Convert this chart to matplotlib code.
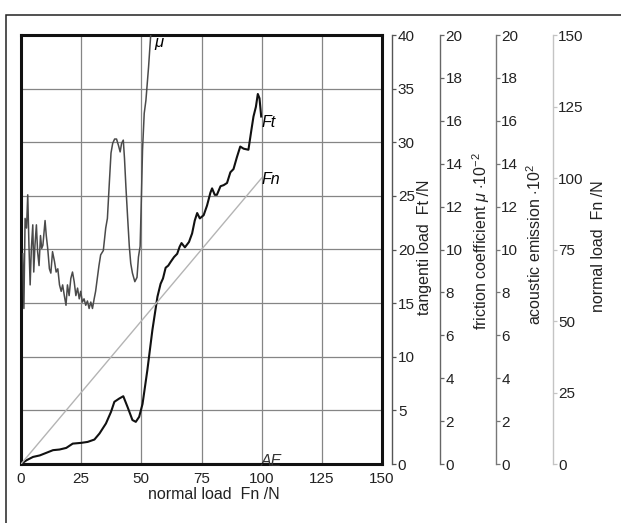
import matplotlib
matplotlib.use("Agg")
import matplotlib.pyplot as plt
from matplotlib.patches import Rectangle

plt.rcParams['font.family'] = ['Liberation Sans', 'DejaVu Sans']
plt.rcParams['mathtext.fontset'] = 'custom'
plt.rcParams['mathtext.rm'] = 'Liberation Sans'
plt.rcParams['mathtext.it'] = 'Liberation Sans:italic'

# tangential load Ft (N) over normal load Fn (N)
ft_x = [0, 2.3, 5.0, 7.8, 10.5, 13.3, 16.0, 18.8, 21.5, 25.0, 27.7, 30.5, 32.6,
        35.3, 37.4, 38.8, 40.8, 42.5, 44.3, 46.3, 47.7, 49.1, 50.5, 52.5, 54.6,
        56.7, 58.0, 59.0, 60.1, 61.2, 62.2, 63.6, 64.9, 65.9, 66.7, 68.1, 69.8,
        71.1, 72.2, 73.2, 74.3, 75.9, 77.3, 78.7, 79.4, 80.5, 81.4, 82.9, 84.2,
        85.6, 87.0, 88.3, 89.7, 91.1, 92.5, 94.5, 95.7, 96.6, 97.6, 98.4, 99.1, 99.8]
ft_y = [0, 0.35, 0.66, 0.8, 1.04, 1.29, 1.35, 1.5, 1.9, 1.97, 2.06, 2.28, 2.84,
        3.78, 4.86, 5.8, 6.1, 6.32, 5.3, 4.1, 3.93, 4.4, 5.6, 8.75, 12.5,
        15.6, 16.8, 17.3, 18.3, 18.5, 18.85, 19.3, 19.6, 20.25, 20.6, 20.2, 20.7,
        21.5, 22.7, 23.4, 22.9, 23.2, 24.1, 25.3, 25.7, 25.1, 25.1, 25.9, 26.0,
        26.2, 27.2, 27.5, 28.6, 29.6, 29.4, 29.3, 31.1, 32.4, 33.3, 34.5, 34.1, 32.4]

# friction coefficient mu (x 10^-2)
mu_x = [0.7, 1.2, 1.7, 2.3, 2.8, 3.3, 3.8, 4.3, 4.9, 5.3, 5.8, 6.4, 6.9, 7.5,
        8.1, 8.6, 9.1, 10.0, 10.5, 11.1, 11.8, 12.4, 13.1, 13.9, 14.6, 15.3,
        16.0, 16.7, 17.3, 18.0, 18.7, 19.3, 20.0, 20.7, 21.4, 22.1, 22.8, 23.5,
        24.2, 24.8, 25.5, 26.2, 26.9, 27.6, 28.3, 29.0, 29.7, 30.4, 31.0, 31.7,
        32.4, 33.1, 34.2, 35.2, 35.9, 36.7, 37.4, 38.1, 38.9, 39.7, 40.5, 41.2,
        41.8, 42.5, 43.0, 43.6, 44.3, 45.0, 45.6, 46.3, 47.3, 48.2, 48.8, 49.5,
        50.0, 50.5, 51.2, 51.9, 53.0, 53.9, 54.5]
mu_y = [9.8, 7.25, 11.45, 11.0, 12.55, 10.2, 8.35, 10.05, 11.15, 8.95, 10.2,
        11.15, 9.9, 9.25, 10.65, 10.05, 10.2, 11.35, 10.65, 10.05, 9.1, 8.9, 9.9,
        9.45, 8.95, 9.1, 8.35, 8.05, 8.35, 7.85, 7.4, 8.35, 7.85, 8.65, 8.95, 8.5,
        7.85, 8.2, 7.7, 8.05, 7.55, 7.7, 7.4, 7.6, 7.25, 7.55, 7.25, 7.7, 8.05,
        8.65, 9.25, 9.75, 9.95, 11.0, 11.45, 13.1, 14.5, 14.95, 15.15, 15.15,
        14.85, 14.55, 14.95, 15.1, 14.25, 12.9, 11.5, 10.15, 9.35, 8.9, 8.5, 8.7,
        9.65, 10.15, 12.3, 14.65, 16.35, 16.95, 18.5, 20.0, 21.0]

# normal load Fn and acoustic emission
fn_x = [0, 100]
fn_y = [0, 100]
ae_x = [0, 100]
ae_y = [0, 0]

W, H = 621, 523
fig = plt.figure(figsize=(W / 100, H / 100), dpi=100)
fig.add_artist(Rectangle((6 / W, -0.1), 1.0, 1 - 15 / H + 0.1, transform=fig.transFigure,
                         fill=False, lw=1.1, ec='#222222'))

ax = fig.add_axes([21 / W, 1 - 464 / H, 361 / W, 429 / H])
ax.set_xlim(0, 150)
ax.set_ylim(0, 40)
ax.set_xticks(range(0, 151, 25))
ax.set_yticks(range(0, 41, 5))
ax.tick_params(axis='x', length=0, pad=6, labelsize=11, colors='#222222')
ax.grid(True, color='#858585', lw=0.9)
ax.set_axisbelow(True)
for s in ax.spines.values():
    s.set_linewidth(2.2)
    s.set_color('#111111')
ax.set_xlabel('normal load  Fn /N', fontsize=11.5, va='center', color='#222222')
ax.xaxis.set_label_coords(0.533, -0.072)


def side_axis(pos, lim, step, color, label, lx, ly):
    a = ax.twinx()
    a.set_ylim(0, lim)
    a.set_yticks(range(0, lim + 1, step))
    for k in ['top', 'bottom', 'left']:
        a.spines[k].set_visible(False)
    a.spines['right'].set_position(('axes', pos))
    a.spines['right'].set_color(color)
    a.spines['right'].set_linewidth(1.0)
    a.tick_params(axis='y', direction='out', length=3, width=0.9, pad=1,
                  color=color, labelsize=11, labelcolor='#222222')
    a.set_ylabel(label, fontsize=11.5, rotation=90, ha='center', va='center',
                 color='#222222')
    a.yaxis.set_label_coords(lx, ly)
    return a


ax_ft = side_axis(1.0285, 40, 5, '#555555', 'tangenti load  Ft /N', 1.119, 0.505)
ax_mu = side_axis(1.1607, 20, 2, '#666666',
                  r'friction coefficient $\mathit{\mu}$ $\cdot$10$^{-2}$', 1.2756, 0.519)
ax_ae = side_axis(1.315, 20, 2, '#777777', r'acoustic emission $\cdot$10$^{2}$', 1.424, 0.512)
ax_fn = side_axis(1.473, 150, 25, '#c4c4c4', 'normal load  Fn /N', 1.601, 0.508)

# twinx turns the left ticks of the main axes back on
ax.tick_params(axis='y', left=False, labelleft=False, right=False, labelright=False)

ax_fn.plot(fn_x, fn_y, color='#b4b4b4', lw=1.0)
ax_mu.plot(mu_x, mu_y, color='#4a4a4a', lw=1.1)
ax_ae.plot(ae_x, ae_y, color='#111111', lw=2.2)
ax_ft.plot(ft_x, ft_y, color='#111111', lw=1.5)

ax.text(55.4, 39.2, r'$\mathit{\mu}$', fontsize=12, va='center', ha='left')
ax.text(99.9, 31.8, 'Ft', fontsize=11.5, style='italic', va='center', ha='left')
ax.text(99.9, 26.5, 'Fn', fontsize=11.5, style='italic', va='center', ha='left')
ax.text(99.6, 0.25, 'AE', fontsize=11.5, style='italic', va='center', ha='left',
        color='#333333')

fig.savefig('out.png', dpi=100)
